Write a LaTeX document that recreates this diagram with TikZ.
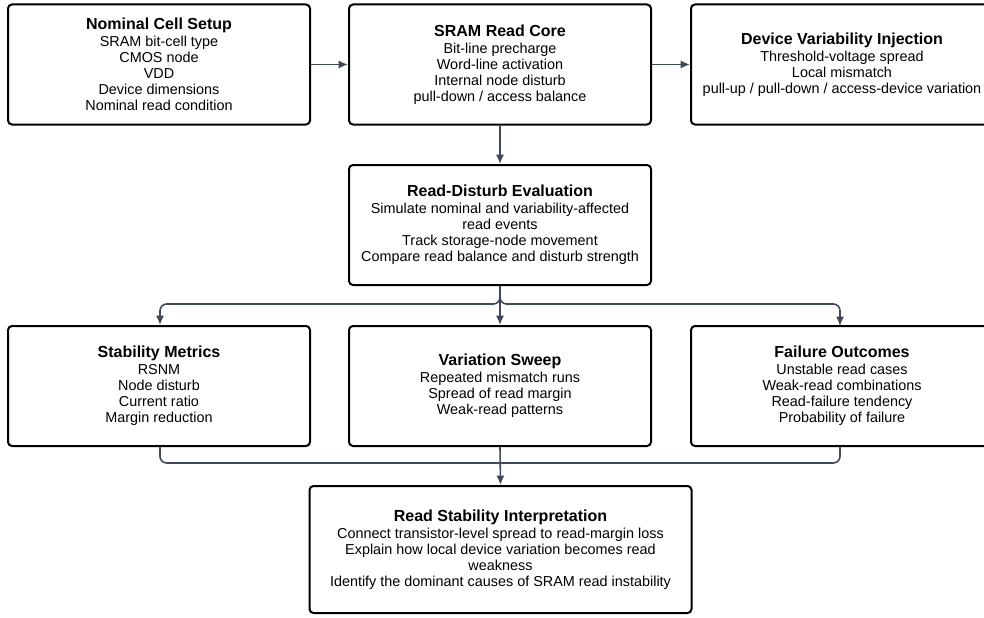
\documentclass[tikz,border=0pt]{standalone}
\usepackage{fontspec}
\setmainfont{Liberation Sans}
\usetikzlibrary{arrows.meta}
\definecolor{edge}{HTML}{414958}
\tikzset{
  box/.style={draw=black, line width=1.5pt, rounded corners=3pt, fill=white, align=center, inner sep=0pt,
    minimum width=226.5pt, minimum height=90pt, font=\fontsize{10.8}{12}\selectfont},
  conn/.style={draw=edge, line width=1.2pt, rounded corners=5pt, -{Latex[length=7pt,width=6pt]}},
  line/.style={draw=edge, line width=1.2pt, rounded corners=5pt}
}
\newcommand{\ttl}[1]{{\fontsize{12}{12}\selectfont\bfseries #1}\\[0.6pt]}
\begin{document}
\begin{tikzpicture}[x=0.75pt,y=-0.75pt]
\useasboundingbox[fill=white] (0,0) rectangle (984,617);
\node[box] (b1) at (159,64.5) {\ttl{Nominal Cell Setup}SRAM bit-cell type\\CMOS node\\VDD\\Device dimensions\\Nominal read condition};
\node[box] (b2) at (500,64.5) {\ttl{SRAM Read Core}Bit-line precharge\\Word-line activation\\Internal node disturb\\pull-down / access balance};
\node[box] (b3) at (842,64.5) {\ttl{Device Variability Injection}Threshold-voltage spread\\Local mismatch\\pull-up / pull-down / access-device variation};
\node[box] (b4) at (500,225) {\ttl{Read-Disturb Evaluation}Simulate nominal and variability-affected\\read events\\Track storage-node movement\\Compare read balance and disturb strength};
\node[box] (b5) at (159,386) {\ttl{Stability Metrics}RSNM\\Node disturb\\Current ratio\\Margin reduction};
\node[box] (b6) at (500,386) {\ttl{Variation Sweep}Repeated mismatch runs\\Spread of read margin\\Weak-read patterns};
\node[box] (b7) at (842,386) {\ttl{Failure Outcomes}Unstable read cases\\Weak-read combinations\\Read-failure tendency\\Probability of failure};
\node[box, minimum width=286.5pt, minimum height=95.25pt] (b8) at (500.5,549.5) {\ttl{Read Stability Interpretation}Connect transistor-level spread to read-margin loss\\Explain how local device variation becomes read\\weakness\\Identify the dominant causes of SRAM read instability};
\coordinate (split) at (500,304);
\coordinate (merge) at (500,463);
\draw[conn] (b1.east) -- (b2.west);
\draw[conn] (b2.east) -- (b3.west);
\draw[conn] (b2.south) -- (b4.north);
\draw[conn] (b4.south) -- (split) -| (160,326) -- (b5.north -| 160,0);
\draw[conn] (b4.south) -- (split) -| (840,326);
\draw[conn] (b4.south) -- (b6.north);
\draw[line] (b5.south -| 160,0) -- (160,463) -- (merge);
\draw[line] (b7.south -| 840,0) -- (840,463) -- (merge);
\draw[conn] (b6.south) -- (b8.north);
\end{tikzpicture}
\end{document}
